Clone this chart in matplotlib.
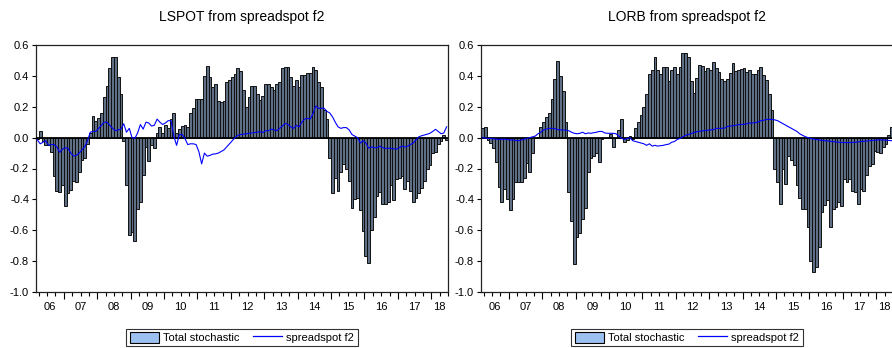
import numpy as np
import matplotlib
matplotlib.use("Agg")
import matplotlib.pyplot as plt
from matplotlib.patches import Patch
from matplotlib.lines import Line2D

plt.rcParams['font.family'] = ['Liberation Sans', 'DejaVu Sans']
plt.rcParams['axes.unicode_minus'] = False

# monthly data, 2006M03 .. 2018M08
start_year, start_month = 2006, 3
titles = ["LSPOT from spreadspot f2", "LORB from spreadspot f2"]
legend_labels = ["Total stochastic", "spreadspot f2"]
year_labels = ["06", "07", "08", "09", "10", "11", "12", "13", "14", "15", "16", "17", "18"]
yticks = [0.6, 0.4, 0.2, 0.0, -0.2, -0.4, -0.6, -0.8, -1.0]

lspot_total = [
    -0.01, 0.04, -0.02, -0.05, -0.05, -0.09, -0.25, -0.345, -0.35, -0.31,
    -0.44, -0.36, -0.34, -0.28, -0.285, -0.22, -0.145, -0.13, -0.04, 0.03, 0.14, 0.11,
    0.125, 0.16, 0.265, 0.335, 0.45, 0.52, 0.52, 0.395, 0.285, -0.02, -0.31, -0.63,
    -0.61, -0.67, -0.46, -0.42, -0.24, -0.06, -0.15, -0.05, -0.065, 0.03, 0.067, 0.03,
    0.08, 0.06, 0.12, 0.16, 0.03, 0.055, 0.075, 0.08, 0.07, 0.157, 0.19, 0.25,
    0.25, 0.25, 0.40, 0.465, 0.39, 0.33, 0.35, 0.237, 0.23, 0.237, 0.36, 0.375,
    0.39, 0.41, 0.45, 0.43, 0.31, 0.20, 0.265, 0.335, 0.337, 0.285, 0.245, 0.27,
    0.35, 0.35, 0.325, 0.31, 0.35, 0.36, 0.45, 0.46, 0.46, 0.39, 0.335, 0.375,
    0.325, 0.405, 0.405, 0.42, 0.42, 0.455, 0.435, 0.36, 0.325, 0.18, 0.12, -0.13,
    -0.36, -0.26, -0.346, -0.22, -0.17, -0.2, -0.28, -0.455, -0.40, -0.39, -0.47, -0.605,
    -0.77, -0.81, -0.60, -0.515, -0.38, -0.35, -0.43, -0.43, -0.415, -0.31, -0.405, -0.27,
    -0.26, -0.25, -0.33, -0.28, -0.346, -0.42, -0.39, -0.36, -0.325, -0.28, -0.2, -0.18,
    -0.1, -0.09, -0.04, -0.02, 0.02, -0.015,
]
lspot_spread = [
    -0.015, -0.04, -0.03, -0.02, -0.05, -0.045, -0.045, -0.06, -0.095, -0.075,
    -0.065, -0.07, -0.1, -0.12, -0.115, -0.1, -0.08, -0.06, -0.02, 0.035, 0.04, 0.04,
    0.06, 0.08, 0.1, 0.1, 0.08, 0.06, 0.045, 0.05, 0.055, 0.09, 0.035, 0.06,
    0.0, -0.005, 0.03, 0.085, 0.055, 0.1, 0.095, 0.075, 0.08, 0.12, 0.1, 0.085,
    0.095, 0.11, 0.11, 0.01, -0.05, 0.02, 0.02, -0.005, -0.045, -0.04, -0.04, -0.045,
    -0.09, -0.17, -0.1, -0.12, -0.115, -0.107, -0.105, -0.1, -0.09, -0.08, -0.06, -0.04,
    -0.02, 0.0, 0.015, 0.02, 0.022, 0.025, 0.028, 0.03, 0.033, 0.035, 0.038, 0.033,
    0.045, 0.045, 0.055, 0.05, 0.045, 0.06, 0.075, 0.093, 0.085, 0.07, 0.06, 0.08,
    0.07, 0.1, 0.12, 0.125, 0.12, 0.155, 0.205, 0.19, 0.19, 0.19, 0.17, 0.16,
    0.135, 0.1, 0.07, 0.06, 0.065, 0.065, 0.05, 0.02, 0.01, 0.0, -0.035, -0.02,
    -0.035, -0.068, -0.06, -0.065, -0.065, -0.055, -0.065, -0.07, -0.068, -0.07, -0.072, -0.075,
    -0.065, -0.055, -0.06, -0.055, -0.045, -0.035, -0.015, 0.005, 0.012, 0.017, 0.022, 0.028,
    0.04, 0.054, 0.04, 0.025, 0.03, 0.07,
]
lorb_total = [
    0.06, 0.067, -0.015, -0.035, -0.07, -0.16, -0.32, -0.415, -0.335, -0.4,
    -0.47, -0.4, -0.29, -0.285, -0.285, -0.26, -0.165, -0.225, -0.1, -0.005, 0.005, 0.07,
    0.1, 0.135, 0.16, 0.25, 0.38, 0.495, 0.4, 0.305, 0.1, -0.35, -0.54, -0.82,
    -0.645, -0.615, -0.53, -0.455, -0.22, -0.13, -0.12, -0.1, -0.16, -0.01, 0.0, 0.0,
    0.025, -0.06, 0.0, 0.05, 0.12, -0.03, -0.015, 0.01, -0.01, 0.06, 0.1, 0.145,
    0.2, 0.28, 0.41, 0.44, 0.52, 0.44, 0.415, 0.46, 0.455, 0.365, 0.44, 0.455,
    0.415, 0.46, 0.55, 0.55, 0.52, 0.37, 0.29, 0.385, 0.47, 0.465, 0.43, 0.45,
    0.44, 0.49, 0.45, 0.425, 0.38, 0.365, 0.38, 0.42, 0.485, 0.43, 0.435, 0.445,
    0.45, 0.425, 0.435, 0.415, 0.415, 0.435, 0.455, 0.405, 0.375, 0.28, 0.18, -0.2,
    -0.285, -0.43, -0.2, -0.3, -0.12, -0.145, -0.175, -0.31, -0.39, -0.465, -0.465, -0.58,
    -0.8, -0.87, -0.84, -0.71, -0.485, -0.435, -0.405, -0.58, -0.46, -0.45, -0.42, -0.445,
    -0.27, -0.29, -0.27, -0.345, -0.355, -0.43, -0.335, -0.345, -0.24, -0.185, -0.17, -0.085,
    -0.09, -0.1, -0.06, -0.04, 0.015, 0.07,
]
lorb_spread = [
    0.0, -0.003, -0.005, -0.005, -0.008, -0.01, -0.012, -0.01, -0.01, -0.012,
    -0.015, -0.015, -0.018, -0.02, -0.015, -0.01, -0.005, 0.0, 0.005, 0.01, 0.025, 0.035,
    0.05, 0.055, 0.06, 0.06, 0.058, 0.052, 0.05, 0.05, 0.048, 0.045, 0.035, 0.028,
    0.025, 0.028, 0.035, 0.025, 0.03, 0.028, 0.032, 0.035, 0.04, 0.04, 0.03, 0.028,
    0.028, 0.028, 0.025, 0.01, -0.005, -0.012, -0.005, 0.0, -0.02, -0.025, -0.03, -0.035,
    -0.04, -0.05, -0.04, -0.055, -0.05, -0.055, -0.052, -0.05, -0.045, -0.042, -0.03, -0.025,
    -0.012, -0.005, 0.005, 0.015, 0.02, 0.027, 0.033, 0.038, 0.04, 0.044, 0.045, 0.048,
    0.05, 0.052, 0.06, 0.06, 0.06, 0.062, 0.072, 0.075, 0.077, 0.08, 0.084, 0.085,
    0.086, 0.09, 0.095, 0.095, 0.097, 0.1, 0.11, 0.112, 0.118, 0.118, 0.118, 0.115,
    0.11, 0.1, 0.09, 0.08, 0.07, 0.06, 0.05, 0.04, 0.025, 0.015, 0.006, 0.0,
    -0.005, -0.01, -0.012, -0.015, -0.018, -0.02, -0.021, -0.024, -0.026, -0.028, -0.03, -0.031,
    -0.032, -0.032, -0.032, -0.031, -0.03, -0.028, -0.025, -0.024, -0.022, -0.02, -0.018, -0.017,
    -0.015, -0.015, -0.015, -0.016, -0.018, -0.02,
]

n = len(lspot_total)
t0 = start_year + (start_month - 1) / 12
t1 = t0 + n / 12
x = t0 + (np.arange(n) + 0.5) / 12

W, H = 892, 348
fig = plt.figure(figsize=(W / 100, H / 100), dpi=100)
axes = [fig.add_axes([36 / W, 56 / H, 412 / W, 247 / H]),
        fig.add_axes([481 / W, 56 / H, 412 / W, 247 / H])]

bar_face = '#5f6f86'
for ax, title, bars, line in zip(axes, titles, [lspot_total, lorb_total], [lspot_spread, lorb_spread]):
    ax.bar(x, bars, width=1 / 12, color=bar_face, edgecolor='#101010', linewidth=0.7, zorder=2)
    ax.axhline(0, color='black', lw=1.3, zorder=3)
    ax.plot(x, line, color='#0000ff', lw=0.8, zorder=4)
    ax.set_xlim(t0, t1)
    ax.set_ylim(-1.0, 0.6)
    ax.set_yticks(yticks)
    ax.set_yticklabels([f"{v:.1f}" for v in yticks], fontsize=8)
    years = np.arange(int(np.ceil(t0)), int(t1) + 1)
    ax.set_xticks(years)
    ax.set_xticklabels([])
    quarters = np.arange(np.ceil(t0 * 4) / 4, t1 + 1e-9, 0.25)
    ax.set_xticks(quarters, minor=True)
    ax.tick_params(axis='x', which='major', length=5, width=0.8, direction='out')
    ax.tick_params(axis='x', which='minor', length=3, width=0.8, direction='out')
    ax.tick_params(axis='y', length=3, width=0.8, direction='out', pad=2)
    for y0, lab in zip(range(2006, 2019), year_labels):
        a, b = max(y0, t0), min(y0 + 1, t1)
        ax.text((a + b) / 2, -0.04, lab, transform=ax.get_xaxis_transform(),
                ha='center', va='top', fontsize=8)
    for s in ax.spines.values():
        s.set_linewidth(0.9)
        s.set_color('#222222')
    ax.set_title(title, fontsize=10, pad=17)
    handles = [Patch(facecolor='#9cc0f0', edgecolor='black', linewidth=0.8),
               Line2D([0], [0], color='#0000ff', lw=0.9)]
    leg = ax.legend(handles, legend_labels, loc='upper center', bbox_to_anchor=(0.5, -0.148),
                    ncol=2, fontsize=8, frameon=True, fancybox=False, borderpad=0.3,
                    handlelength=2.6, handleheight=1.1, columnspacing=1.2, handletextpad=0.4,
                    borderaxespad=0)
    leg.get_frame().set_edgecolor('black')
    leg.get_frame().set_linewidth(0.8)

fig.savefig('out.png', dpi=100)
